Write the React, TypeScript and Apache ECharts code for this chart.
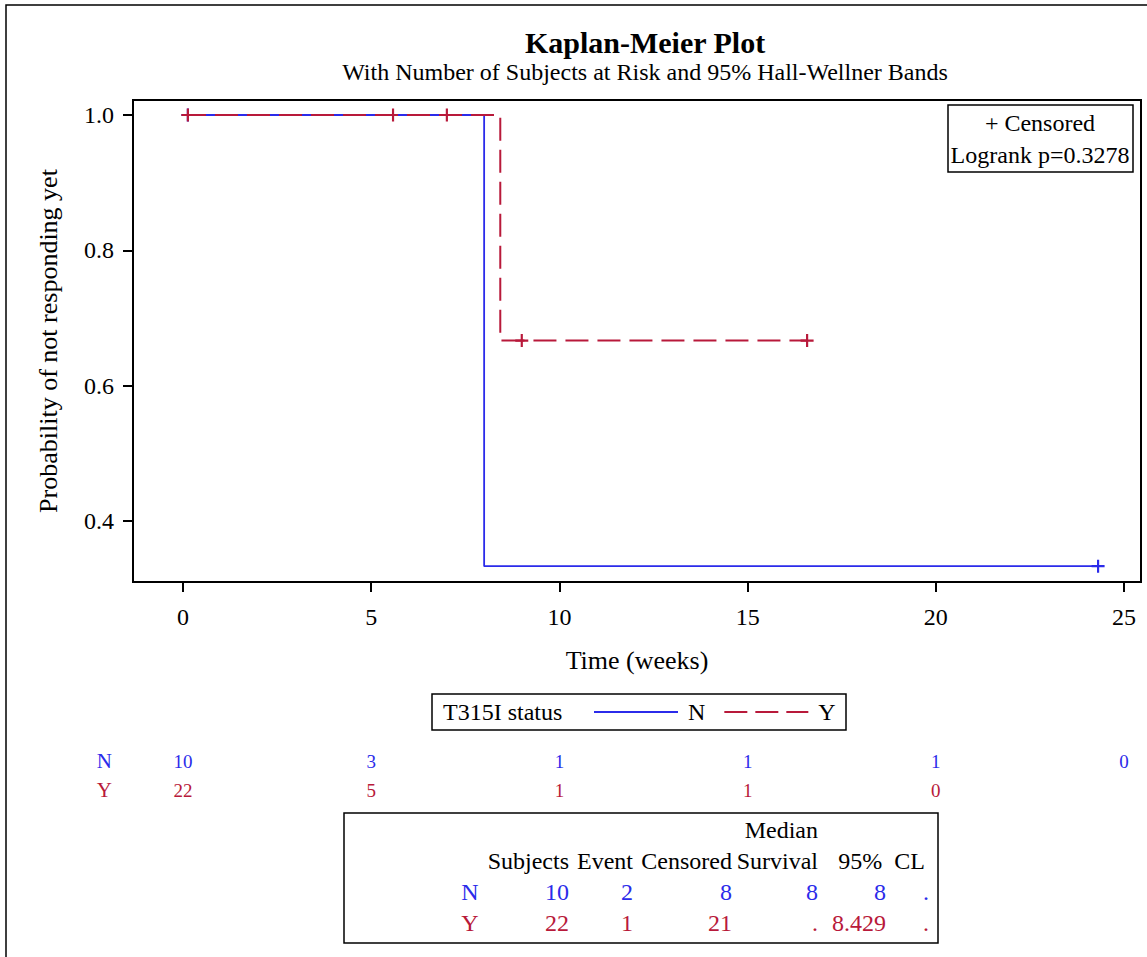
import React, { useEffect, useRef } from "react";
import * as echarts from "echarts";

const BLUE = "#2b2bea";
const RED = "#b8193a";
const FONT = "'Liberation Serif', 'DejaVu Serif', serif";

const groups = ["N", "Y"];
const xTicks = [0, 5, 10, 15, 20, 25];
const yTicks = [0.4, 0.6, 0.8, 1.0];

// Kaplan-Meier step curves [time, survival]
const curveN = [[0, 1], [8, 1], [8, 0.3333], [24.31, 0.3333]];
const curveY = [[0, 1], [8.429, 1], [8.429, 0.6667], [16.58, 0.6667]];
// censored observations
const censorN = [[0.13, 1], [24.31, 0.3333]];
const censorY = [[0.13, 1], [5.58, 1], [7.01, 1], [9.0, 0.6667], [16.58, 0.6667]];

// number at risk
const riskTimes = [0, 5, 10, 15, 20, 25];
const riskN = [10, 3, 1, 1, 1, 0];
const riskY = [22, 5, 1, 1, 0];

// summary table
const statSubjects = [10, 22];
const statEvent = [2, 1];
const statCensored = [8, 21];
const statMedian = ["8", "."];
const statLower = ["8", "8.429"];
const statUpper = [".", "."];

const PLUS = "path://M-6,-1H6V1H-6Z M-1,-6H1V6H-1Z";
const ICON_SOLID = "path://M0,0H84V2H0Z";
const ICON_DASH = "path://M0,0H23V2H0Z M31,0H54V2H31Z M62,0H84V2H62Z";

export default function App() {
  const ref = useRef<HTMLDivElement>(null);
  useEffect(() => {
    if (!ref.current) return;
    const chart = echarts.init(ref.current, null, { renderer: "svg" });
    const colorOf = (g: string) => (g === "N" ? BLUE : RED);

    const riskData: any[] = [];
    riskN.forEach((v, i) => riskData.push({ value: [riskTimes[i], "N", v], label: { color: BLUE } }));
    riskY.forEach((v, i) => riskData.push({ value: [riskTimes[i], "Y", v], label: { color: RED } }));

    const txt = (text: string, x: number, y: number, align: string, color = "#000", size = 24) => ({
      type: "text",
      x,
      y,
      style: { text, fill: color, font: `${size}px ${FONT}`, textAlign: align, textVerticalAlign: "middle" },
      silent: true,
    });

    const tableEls: any[] = [];
    const colX = { group: 470, subj: 569, event: 633, cens: 732, med: 818, lo: 886, hi: 929 };
    tableEls.push(txt("Median", 818, 830, "right"));
    tableEls.push(txt("Subjects", colX.subj, 861, "right"));
    tableEls.push(txt("Event", colX.event, 861, "right"));
    tableEls.push(txt("Censored", colX.cens, 861, "right"));
    tableEls.push(txt("Survival", colX.med, 861, "right"));
    tableEls.push(txt("95%  CL", 925, 861, "right"));
    groups.forEach((g, i) => {
      const y = 892 + i * 31;
      const c = colorOf(g);
      tableEls.push(txt(g, colX.group, y, "center", c));
      tableEls.push(txt(String(statSubjects[i]), colX.subj, y, "right", c));
      tableEls.push(txt(String(statEvent[i]), colX.event, y, "right", c));
      tableEls.push(txt(String(statCensored[i]), colX.cens, y, "right", c));
      tableEls.push(txt(statMedian[i], colX.med, y, "right", c));
      tableEls.push(txt(statLower[i], colX.lo, y, "right", c));
      tableEls.push(txt(statUpper[i], colX.hi, y, "right", c));
    });

    const xMin = -1.328;
    const xMax = 25.45;

    chart.setOption({
      animation: false,
      backgroundColor: "#fff",
      title: {
        text: "Kaplan-Meier Plot",
        subtext: "With Number of Subjects at Risk and 95% Hall-Wellner Bands",
        left: 640,
        top: 22,
        textAlign: "center",
        itemGap: 3,
        textStyle: { fontFamily: FONT, fontSize: 30, fontWeight: "bold", color: "#000" },
        subtextStyle: { fontFamily: FONT, fontSize: 24, color: "#000" },
      },
      legend: {
        data: [
          { name: "N", icon: ICON_SOLID },
          { name: "Y", icon: ICON_DASH },
        ],
        left: 594,
        top: 700,
        padding: 0,
        itemWidth: 84,
        itemHeight: 2,
        itemGap: 19,
        textStyle: { fontFamily: FONT, fontSize: 24, color: "#000", padding: [0, 0, 0, 5] },
      },
      grid: [
        { left: 133, top: 100, width: 1008, height: 482, show: true, borderColor: "#000", borderWidth: 2, backgroundColor: "transparent" },
        { left: 133, top: 746.5, width: 1008, height: 58, show: false },
      ],
      xAxis: [
        {
          type: "value",
          gridIndex: 0,
          min: xMin,
          max: xMax,
          name: "Time (weeks)",
          nameLocation: "middle",
          nameGap: 65,
          nameTextStyle: { fontFamily: FONT, fontSize: 26, color: "#000" },
          axisLine: { show: true, onZero: false, lineStyle: { color: "#000", width: 2 } },
          axisTick: { show: true, length: 10, customValues: xTicks, lineStyle: { color: "#000", width: 2 } },
          axisLabel: { customValues: xTicks, margin: 23, fontFamily: FONT, fontSize: 24, color: "#000" },
          splitLine: { show: false },
        },
        {
          type: "value",
          gridIndex: 1,
          min: xMin,
          max: xMax,
          show: false,
        },
      ],
      yAxis: [
        {
          type: "value",
          gridIndex: 0,
          min: 0.3099,
          max: 1.0222,
          name: "Probability of not responding yet",
          nameLocation: "middle",
          nameGap: 72,
          nameTextStyle: { fontFamily: FONT, fontSize: 26, color: "#000" },
          axisLine: { show: true, onZero: false, lineStyle: { color: "#000", width: 2 } },
          axisTick: { show: true, length: 10, customValues: yTicks, lineStyle: { color: "#000", width: 2 } },
          axisLabel: {
            customValues: yTicks,
            margin: 19,
            fontFamily: FONT,
            fontSize: 24,
            color: "#000",
            formatter: (v: number) => v.toFixed(1),
          },
          splitLine: { show: false },
        },
        {
          type: "category",
          gridIndex: 1,
          data: groups,
          inverse: true,
          axisLine: { show: false },
          axisTick: { show: false },
          splitLine: { show: false },
          axisLabel: {
            margin: 21,
            fontFamily: FONT,
            fontSize: 21,
            color: (v: string) => colorOf(v),
          },
        },
      ],
      series: [
        {
          name: "N",
          type: "line",
          xAxisIndex: 0,
          yAxisIndex: 0,
          data: curveN,
          symbol: "none",
          lineStyle: { color: BLUE, width: 1.8, type: "solid" },
          itemStyle: { color: BLUE },
        },
        {
          name: "Y",
          type: "line",
          xAxisIndex: 0,
          yAxisIndex: 0,
          data: curveY,
          symbol: "none",
          lineStyle: { color: RED, width: 2, type: [23, 9] },
          itemStyle: { color: RED },
        },
        {
          name: "N censored",
          type: "scatter",
          xAxisIndex: 0,
          yAxisIndex: 0,
          data: censorN,
          symbol: PLUS,
          symbolSize: 13,
          itemStyle: { color: BLUE, opacity: 1 },
        },
        {
          name: "Y censored",
          type: "scatter",
          xAxisIndex: 0,
          yAxisIndex: 0,
          data: censorY,
          symbol: PLUS,
          symbolSize: 13,
          itemStyle: { color: RED, opacity: 1 },
        },
        {
          name: "At risk",
          type: "scatter",
          xAxisIndex: 1,
          yAxisIndex: 1,
          data: riskData,
          symbolSize: 1,
          itemStyle: { color: "#fff", opacity: 1 },
          label: {
            show: true,
            position: "inside",
            formatter: (p: any) => String(p.value[2]),
            fontFamily: FONT,
            fontSize: 19,
            opacity: 1,
          },
        },
      ],
      graphic: [
        {
          type: "rect",
          shape: { x: 6, y: 5, width: 1200, height: 1000 },
          style: { fill: "none", stroke: "#000", lineWidth: 1.5 },
          silent: true,
        },
        {
          type: "rect",
          shape: { x: 948, y: 105, width: 185, height: 67 },
          style: { fill: "#fff", stroke: "#000", lineWidth: 1.5 },
          silent: true,
        },
        txt("+ Censored", 1040, 123, "center"),
        txt("Logrank p=0.3278", 1040, 155, "center"),
        {
          type: "rect",
          shape: { x: 432, y: 694, width: 414, height: 36 },
          style: { fill: "none", stroke: "#000", lineWidth: 1.5 },
          silent: true,
        },
        txt("T315I status", 443, 712, "left"),
        {
          type: "rect",
          shape: { x: 344, y: 813, width: 594, height: 130 },
          style: { fill: "none", stroke: "#000", lineWidth: 1.5 },
          silent: true,
        },
        ...tableEls,
      ],
    });
    return () => chart.dispose();
  }, []);
  return (
    <div
      ref={ref}
      style={{ position: "fixed", left: 0, top: 0, width: 1147, height: 957, background: "#fff" }}
    />
  );
}
